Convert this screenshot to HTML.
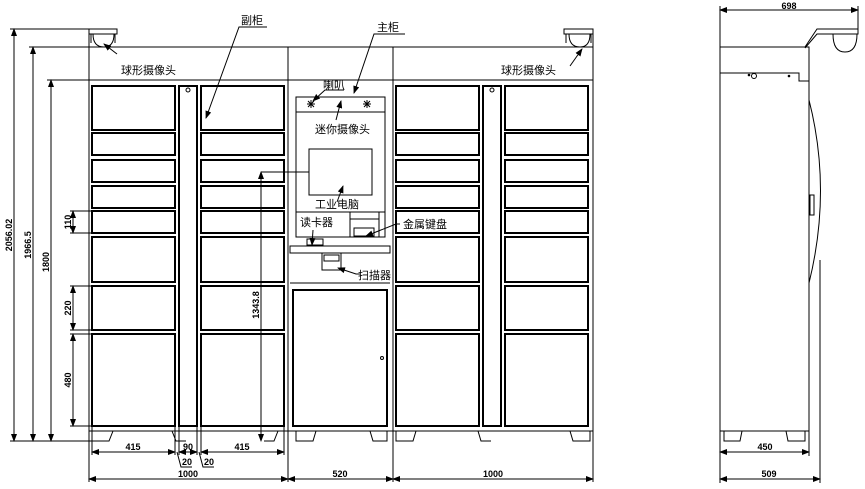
<!DOCTYPE html>
<html><head><meta charset="utf-8"><style>
html,body{margin:0;padding:0;background:#fff;}
svg{display:block;}
text{font-family:"Liberation Sans","Noto Sans CJK SC",sans-serif;fill:#000;}
</style></head><body>
<svg width="865" height="489" viewBox="0 0 865 489" xmlns="http://www.w3.org/2000/svg">
<defs>
<marker id="a" markerWidth="8" markerHeight="6" refX="7" refY="3" orient="auto-start-reverse" markerUnits="userSpaceOnUse"><path d="M0,0 L8,3 L0,6 z" fill="#000"/></marker>
</defs>
<g fill="none" stroke="#000" stroke-width="1">
<!-- outer body -->
<line x1="89" y1="29" x2="89" y2="441"/>
<line x1="593" y1="29" x2="593" y2="441"/>
<line x1="89" y1="47" x2="593" y2="47"/>
<line x1="89" y1="80" x2="593" y2="80"/>
<line x1="288" y1="47" x2="288" y2="441"/>
<line x1="393" y1="47" x2="393" y2="441"/>
<line x1="89" y1="431" x2="593" y2="431"/>
<!-- cameras -->
<path d="M89,29 h28 v5 h-28 z M91,34 v9 M115,34 v9 M93,34 q0,13 11,13 q10,0 10,-13"/>
<path d="M564,29 h29 v5 h-29 z M566,34 v9 M591,34 v9 M569,34 q0,13 11,13 q10,0 10,-13"/>
<!-- feet -->
<path d="M92,431 v10 h17 l4,-10 M172,431 l4,10 h10 M278,431 l-4,10 h-10 M296,431 v10 h17 l3,-10 M370,431 l3,10 h14 v-10 M396,431 v10 h17 l3,-10 M478,431 l3,10 h10 M570,431 l3,10 h17 v-10"/>
</g>
<g fill="none" stroke="#000" stroke-width="2">
<!-- left cabinet doors -->
<rect x="92" y="86" width="83" height="44"/><rect x="201" y="86" width="83" height="44"/>
<rect x="92" y="133" width="83" height="22"/><rect x="201" y="133" width="83" height="22"/>
<rect x="92" y="160" width="83" height="22"/><rect x="201" y="160" width="83" height="22"/>
<rect x="92" y="186" width="83" height="22"/><rect x="201" y="186" width="83" height="22"/>
<rect x="92" y="211" width="83" height="22"/><rect x="201" y="211" width="83" height="22"/>
<rect x="92" y="237" width="83" height="45"/><rect x="201" y="237" width="83" height="45"/>
<rect x="92" y="286" width="83" height="44"/><rect x="201" y="286" width="83" height="44"/>
<rect x="92" y="334" width="83" height="92"/><rect x="201" y="334" width="83" height="92"/>
<rect x="179" y="86" width="18" height="340"/>
<!-- right cabinet -->
<rect x="396" y="86" width="83" height="44"/><rect x="505" y="86" width="83" height="44"/>
<rect x="396" y="133" width="83" height="22"/><rect x="505" y="133" width="83" height="22"/>
<rect x="396" y="160" width="83" height="22"/><rect x="505" y="160" width="83" height="22"/>
<rect x="396" y="186" width="83" height="22"/><rect x="505" y="186" width="83" height="22"/>
<rect x="396" y="211" width="83" height="22"/><rect x="505" y="211" width="83" height="22"/>
<rect x="396" y="237" width="83" height="45"/><rect x="505" y="237" width="83" height="45"/>
<rect x="396" y="286" width="83" height="44"/><rect x="505" y="286" width="83" height="44"/>
<rect x="396" y="334" width="83" height="92"/><rect x="505" y="334" width="83" height="92"/>
<rect x="483" y="86" width="18" height="340"/>
<!-- middle lower door -->
<rect x="293" y="290" width="94" height="136"/>
</g>
<g fill="none" stroke="#000" stroke-width="1">
<circle cx="188" cy="90" r="2"/><circle cx="492" cy="90" r="2"/><circle cx="382" cy="358" r="1.5"/>
<!-- middle panel -->
<rect x="296" y="97" width="89" height="140"/>
<line x1="296" y1="112" x2="385" y2="112"/>
<rect x="309" y="149" width="63" height="46"/>
<line x1="296" y1="212" x2="385" y2="212"/>
<line x1="350" y1="212" x2="350" y2="237"/>
<rect x="350" y="212" width="29" height="25"/>
<line x1="350" y1="219" x2="379" y2="219"/>
<rect x="354" y="228" width="20" height="8"/>
<rect x="307" y="239" width="16" height="6"/>
<rect x="290" y="246" width="100" height="7"/>
<rect x="322" y="253" width="19" height="17"/>
<rect x="324" y="255" width="15" height="6"/>
<line x1="290" y1="283" x2="390" y2="283"/>
<!-- speakers -->
<path d="M307,104 l8,0 M311,100 l0,8 M308,101 l6,6 M314,101 l-6,6 M363,104 l8,0 M367,100 l0,8 M364,101 l6,6 M370,101 l-6,6"/>
<!-- leaders -->
<line x1="117" y1="54" x2="104" y2="44" marker-end="url(#a)"/>
<line x1="570" y1="66" x2="582" y2="49" marker-end="url(#a)"/>
<polyline points="267,27 239,27 206,118" marker-end="url(#a)"/>
<polyline points="405,34 374,34 354,93" marker-end="url(#a)"/>
<polyline points="344,90 325,90 313,101" marker-end="url(#a)"/>
<line x1="336" y1="120" x2="341" y2="101" marker-end="url(#a)"/>
<line x1="337" y1="202" x2="343" y2="186" marker-end="url(#a)"/>
<line x1="313" y1="230" x2="312" y2="245" marker-end="url(#a)"/>
<polyline points="400,224 396,224 366,236" marker-end="url(#a)"/>
<polyline points="360,274 356,274 338,268" marker-end="url(#a)"/>
<!-- left dimensions -->
<line x1="14" y1="29" x2="14" y2="441" marker-start="url(#a)" marker-end="url(#a)"/>
<line x1="10" y1="29" x2="89" y2="29"/>
<line x1="33" y1="47" x2="33" y2="441" marker-start="url(#a)" marker-end="url(#a)"/>
<line x1="29" y1="47" x2="89" y2="47"/>
<line x1="51" y1="80" x2="51" y2="441" marker-start="url(#a)" marker-end="url(#a)"/>
<line x1="47" y1="80" x2="89" y2="80"/>
<line x1="10" y1="441" x2="92" y2="441"/>
<line x1="73" y1="211" x2="73" y2="233" marker-start="url(#a)" marker-end="url(#a)"/>
<line x1="70" y1="211" x2="92" y2="211"/><line x1="70" y1="233" x2="92" y2="233"/>
<line x1="73" y1="286" x2="73" y2="330" marker-start="url(#a)" marker-end="url(#a)"/>
<line x1="70" y1="286" x2="92" y2="286"/><line x1="70" y1="330" x2="92" y2="330"/>
<line x1="73" y1="334" x2="73" y2="426" marker-start="url(#a)" marker-end="url(#a)"/>
<line x1="70" y1="334" x2="92" y2="334"/><line x1="70" y1="426" x2="92" y2="426"/>
<line x1="261" y1="172" x2="261" y2="441" marker-start="url(#a)" marker-end="url(#a)"/>
<line x1="261" y1="172" x2="309" y2="172"/>
<!-- bottom dims -->
<line x1="92" y1="426" x2="92" y2="455"/><line x1="175" y1="426" x2="175" y2="455"/>
<line x1="179" y1="426" x2="179" y2="455"/><line x1="197" y1="426" x2="197" y2="455"/>
<line x1="201" y1="426" x2="201" y2="455"/><line x1="284" y1="426" x2="284" y2="455"/>
<line x1="92" y1="452" x2="175" y2="452" marker-start="url(#a)" marker-end="url(#a)"/>
<line x1="179" y1="452" x2="197" y2="452" marker-start="url(#a)" marker-end="url(#a)"/>
<line x1="201" y1="452" x2="284" y2="452" marker-start="url(#a)" marker-end="url(#a)"/>
<polyline points="177,452 181,467 192,467"/>
<polyline points="199,452 203,467 214,467"/>
<line x1="89" y1="441" x2="89" y2="482"/><line x1="288" y1="441" x2="288" y2="482"/>
<line x1="393" y1="441" x2="393" y2="482"/><line x1="593" y1="441" x2="593" y2="482"/>
<line x1="89" y1="479" x2="288" y2="479" marker-start="url(#a)" marker-end="url(#a)"/>
<line x1="288" y1="479" x2="393" y2="479" marker-start="url(#a)" marker-end="url(#a)"/>
<line x1="393" y1="479" x2="593" y2="479" marker-start="url(#a)" marker-end="url(#a)"/>
<!-- side view -->
<rect x="720" y="47" width="89" height="384"/>
<path d="M720,73 h79 v8 h10"/>
<circle cx="754" cy="76" r="2.5"/><circle cx="749" cy="75" r="0.8" fill="#000"/><circle cx="789" cy="76" r="0.8" fill="#000"/>
<path d="M809,100 Q832,190 809,283"/>
<rect x="810" y="195" width="4" height="20"/>
<path d="M805,47 l12,-18 h41 v5 h-41 l-12,14"/>
<path d="M833,34 q0,18 12,18 q12,0 12,-18"/>
<path d="M724,431 v10 h16 l2,-10 M786,431 l2,10 h17 v-10"/>
<line x1="720" y1="6" x2="720" y2="47"/><line x1="858" y1="6" x2="858" y2="29"/>
<line x1="720" y1="10" x2="858" y2="10" marker-start="url(#a)" marker-end="url(#a)"/>
<line x1="720" y1="431" x2="720" y2="483"/><line x1="809" y1="431" x2="809" y2="456"/>
<line x1="820" y1="260" x2="820" y2="483"/>
<line x1="720" y1="452" x2="809" y2="452" marker-start="url(#a)" marker-end="url(#a)"/>
<line x1="720" y1="479" x2="820" y2="479" marker-start="url(#a)" marker-end="url(#a)"/>
</g>
<g font-size="11">
<text x="121" y="74">球形摄像头</text>
<text x="501" y="74">球形摄像头</text>
<text x="241" y="24">副柜</text>
<text x="377" y="31">主柜</text>
<text x="323" y="89">喇叭</text>
<text x="315" y="133">迷你摄像头</text>
<text x="315" y="208">工业电脑</text>
<text x="300" y="226">读卡器</text>
<text x="403" y="228">金属键盘</text>
<text x="358" y="279">扫描器</text>
</g>
<g font-size="9" font-weight="bold">
<text x="12" y="235" transform="rotate(-90 12 235)" text-anchor="middle">2056.02</text>
<text x="31" y="245" transform="rotate(-90 31 245)" text-anchor="middle">1966.5</text>
<text x="49" y="262" transform="rotate(-90 49 262)" text-anchor="middle">1800</text>
<text x="71" y="222" transform="rotate(-90 71 222)" text-anchor="middle">110</text>
<text x="71" y="308" transform="rotate(-90 71 308)" text-anchor="middle">220</text>
<text x="71" y="380" transform="rotate(-90 71 380)" text-anchor="middle">480</text>
<text x="259" y="305" transform="rotate(-90 259 305)" text-anchor="middle">1343.8</text>
<text x="133" y="450" text-anchor="middle">415</text>
<text x="188" y="450" text-anchor="middle">90</text>
<text x="242" y="450" text-anchor="middle">415</text>
<text x="187" y="465" text-anchor="middle">20</text>
<text x="209" y="465" text-anchor="middle">20</text>
<text x="188" y="477" text-anchor="middle">1000</text>
<text x="340" y="477" text-anchor="middle">520</text>
<text x="493" y="477" text-anchor="middle">1000</text>
<text x="789" y="9" text-anchor="middle">698</text>
<text x="765" y="450" text-anchor="middle">450</text>
<text x="769" y="477" text-anchor="middle">509</text>
</g>
</svg>
</body></html>
